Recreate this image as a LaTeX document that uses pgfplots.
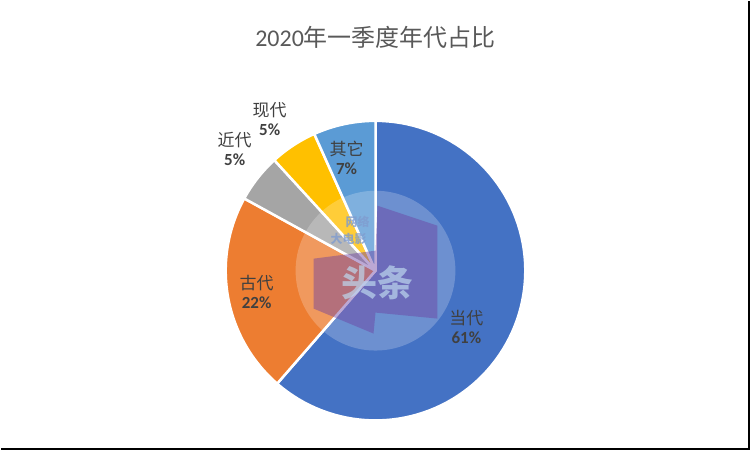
\documentclass[border=0pt]{standalone}
\usepackage{fontspec}
\setmainfont{Carlito}
\newfontfamily\cjk{Noto Sans CJK SC}
\usepackage{pgfplots}
\pgfplotsset{compat=1.18}

\definecolor{cDang}{HTML}{4472C4}
\definecolor{cGu}{HTML}{ED7D31}
\definecolor{cJin}{HTML}{A5A5A5}
\definecolor{cXian}{HTML}{FFC000}
\definecolor{cQi}{HTML}{5B9BD5}
\definecolor{titlegray}{HTML}{595959}
\definecolor{labelgray}{HTML}{404040}
\definecolor{logo}{HTML}{6B3FA0}
\definecolor{wmtext}{HTML}{7F9CCF}

% one slice: start and end as cumulative percent, clockwise from 12 o'clock
\newcommand{\slice}[3]{%
  \addplot[fill=#3, draw=white, line width=2.5pt, line join=round,
    domain=#1*3.6:#2*3.6, samples=90, variable=\t]
    ({375+150*sin(\t)},{270-150*cos(\t)}) -- (375,270) -- cycle;}

\newcommand{\lab}[4]{%
  \node[align=center, text=labelgray, inner sep=0pt] at (#1,#2)
    {{\cjk\fontsize{17}{20}\selectfont #3}\\[5pt]{\fontsize{17}{20}\selectfont\bfseries #4}};}

\begin{document}
\begin{tikzpicture}
\begin{axis}[
  hide axis, scale only axis, clip=false,
  width=750pt, height=450pt,
  xmin=0, xmax=750, ymin=0, ymax=450, y dir=reverse,
]
\path (0,0) rectangle (750,450);

% 当代 61.4, 古代 21.6, 近代 5.2, 现代 5.1, 其它 6.7 (cumulative)
\slice{0}{61.4}{cDang}
\slice{61.4}{83.0}{cGu}
\slice{83.0}{88.2}{cJin}
\slice{88.2}{93.3}{cXian}
\slice{93.3}{100}{cQi}

% watermark
\fill[white, opacity=0.22] (375,270) circle[radius=80];
\fill[logo, opacity=0.45]
  (313,258) -- (375,250) -- (377,205) -- (437,225) -- (437,318) -- (375,312)
  -- (373,333) -- (313,308) -- cycle;
\node[text=cQi!40!white, opacity=0.7, inner sep=0pt]
  at (377,282) {\cjk\bfseries\fontsize{36}{38}\selectfont 头条};
\node[text=wmtext, opacity=0.8, inner sep=0pt]
  at (357,221) {\cjk\bfseries\fontsize{12}{13}\selectfont 网络};
\node[text=wmtext, opacity=0.8, inner sep=0pt]
  at (348,238) {\cjk\bfseries\fontsize{12}{13}\selectfont 大电影};

% labels
\lab{466}{326}{当代}{61\%}
\lab{256}{291}{古代}{22\%}
\lab{234}{148}{近代}{5\%}
\lab{269}{118}{现代}{5\%}
\lab{346}{157}{其它}{7\%}

\node[text=titlegray, inner sep=0pt] at (375,36)
  {\fontsize{24}{28}\selectfont 2020{\cjk 年一季度年代占比}};

\draw[black, line width=2pt] (749,0) -- (749,449) -- (0,449);
\end{axis}
\end{tikzpicture}
\end{document}
